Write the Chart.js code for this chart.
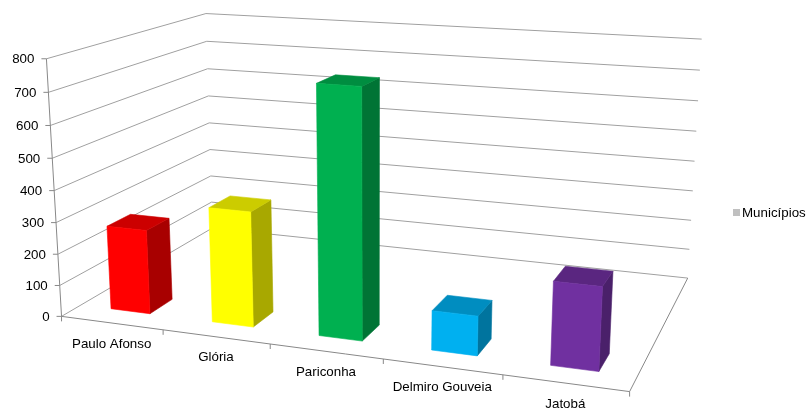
<!DOCTYPE html>
<html>
<head>
<meta charset="utf-8">
<script src="https://cdn.jsdelivr.net/npm/chart.js@4.4.1/dist/chart.umd.min.js"></script>
<style>
html,body{margin:0;padding:0;background:#ffffff;}
canvas{display:block;}
</style>
</head>
<body>
<canvas id="c" width="807" height="408"></canvas>
<script>
// ---- data ----
const categories = ['Paulo Afonso', 'Glória', 'Pariconha', 'Delmiro Gouveia', 'Jatobá'];
const seriesName = 'Municípios';
const values = [268, 360, 758, 120, 248];
const barColors = ['#FF0000', '#FFFF00', '#00B050', '#00B0F0', '#7030A0'];
const yMin = 0, yMax = 800, yStep = 100;

// ---- 3-D frame calibration (layout of the perspective box: [X, Y, Z, px, py]) ----
const FRAME_CAL = [];
(function () {
  const front = [[0, 62, 317], [0.2, 163, 330.5], [0.4, 271, 344.5], [0.6, 384, 359.5], [0.8, 502, 375], [1, 629, 392]];
  front.forEach(([X, x, y]) => FRAME_CAL.push([X, 0, 0, x, y]));
  const fl = [316.7, 285, 253.3, 221.7, 190, 158.3, 125, 92.3, 59];
  fl.forEach((y, k) => FRAME_CAL.push([0, k / 8, 0, 61 - 14 * (317 - y) / 258, y]));
  const blY = [228, 202, 176, 149, 123, 97, 69, 42, 13];
  const blX = [213, 212, 211, 210, 209, 208, 207, 206, 206];
  blY.forEach((y, k) => FRAME_CAL.push([0, k / 8, 1, blX[k], y]));
  const brY = [278, 248, 220, 191, 161, 132, 101, 70, 39];
  const brX = [687, 690, 691, 693, 695, 696, 698, 700, 702];
  brY.forEach((y, k) => FRAME_CAL.push([1, k / 8, 1, brX[k], y]));
})();

function fitProjection(pts) {
  const n = 11;
  const A = Array.from({length: n}, () => new Array(n).fill(0));
  const b = new Array(n).fill(0);
  const add = (r, v) => {
    for (let i = 0; i < n; i++) {
      b[i] += r[i] * v;
      for (let j = 0; j < n; j++) A[i][j] += r[i] * r[j];
    }
  };
  pts.forEach(([X, Y, Z, x, y]) => {
    add([X, Y, Z, 1, 0, 0, 0, 0, -x * X, -x * Y, -x * Z], x);
    add([0, 0, 0, 0, X, Y, Z, 1, -y * X, -y * Y, -y * Z], y);
  });
  for (let c = 0; c < n; c++) {
    let piv = c;
    for (let r = c + 1; r < n; r++) if (Math.abs(A[r][c]) > Math.abs(A[piv][c])) piv = r;
    [A[c], A[piv]] = [A[piv], A[c]]; [b[c], b[piv]] = [b[piv], b[c]];
    for (let r = c + 1; r < n; r++) {
      const f = A[r][c] / A[c][c];
      for (let k = c; k < n; k++) A[r][k] -= f * A[c][k];
      b[r] -= f * b[c];
    }
  }
  const p = new Array(n).fill(0);
  for (let r = n - 1; r >= 0; r--) {
    let s = b[r];
    for (let k = r + 1; k < n; k++) s -= A[r][k] * p[k];
    p[r] = s / A[r][r];
  }
  return p;
}
const PM = fitProjection(FRAME_CAL);
function proj(X, Y, Z) {
  const w = PM[8] * X + PM[9] * Y + PM[10] * Z + 1;
  return {
    x: (PM[0] * X + PM[1] * Y + PM[2] * Z + PM[3]) / w,
    y: (PM[4] * X + PM[5] * Y + PM[6] * Z + PM[7]) / w
  };
}

const BAR_Z0 = 0.11, BAR_Z1 = 0.25;
const GRID_COLOR = '#a0a0a0';
const AXIS_COLOR = '#888888';
const FONT = '13.33px "Liberation Sans", Arial, sans-serif';

function shade(hex, f) {
  const n = parseInt(hex.slice(1), 16);
  const r = Math.round(((n >> 16) & 255) * f), g = Math.round(((n >> 8) & 255) * f), bl = Math.round((n & 255) * f);
  return `rgb(${r},${g},${bl})`;
}

function poly(ctx, pts, fill) {
  ctx.beginPath();
  pts.forEach((p, i) => { const q = proj(p[0], p[1], p[2]); i ? ctx.lineTo(q.x, q.y) : ctx.moveTo(q.x, q.y); });
  ctx.closePath();
  ctx.fillStyle = fill; ctx.fill();
  ctx.strokeStyle = fill; ctx.lineWidth = 0.6; ctx.stroke();
}

const excel3d = {
  id: 'excel3d',
  beforeDatasetsDraw() { return false; },
  afterDraw(chart) {
    const ctx = chart.ctx;
    const xs = chart.scales.x, ys = chart.scales.y;
    ctx.save();
    ctx.lineWidth = 1;
    // walls gridlines
    ys.ticks.forEach(t => {
      const h = (t.value - yMin) / (yMax - yMin);
      const a = proj(0, h, 0), bk = proj(0, h, 1), c = proj(1, h, 1);
      ctx.beginPath(); ctx.moveTo(a.x, a.y); ctx.lineTo(bk.x, bk.y); ctx.lineTo(c.x, c.y);
      ctx.strokeStyle = GRID_COLOR; ctx.stroke();
    });
    // floor front and right edges, vertical axis
    {
      const a = proj(0, 0, 0), b2 = proj(1, 0, 0), c = proj(1, 0, 1);
      ctx.beginPath(); ctx.moveTo(a.x, a.y); ctx.lineTo(b2.x, b2.y); ctx.lineTo(c.x, c.y);
      ctx.strokeStyle = AXIS_COLOR; ctx.stroke();
      const top = proj(0, 1, 0);
      ctx.beginPath(); ctx.moveTo(a.x, a.y); ctx.lineTo(top.x, top.y); ctx.stroke();
    }
    // category ticks
    const n = categories.length;
    for (let k = 0; k <= n; k++) {
      const p = proj(k / n, 0, 0);
      ctx.beginPath(); ctx.moveTo(p.x, p.y); ctx.lineTo(p.x, p.y + 5); ctx.stroke();
    }
    // y ticks and labels
    ctx.font = FONT; ctx.fillStyle = '#000'; ctx.textAlign = 'right'; ctx.textBaseline = 'middle';
    ys.ticks.forEach(t => {
      const h = (t.value - yMin) / (yMax - yMin);
      const p = proj(0, h, 0);
      ctx.beginPath(); ctx.moveTo(p.x - 5, p.y); ctx.lineTo(p.x, p.y); ctx.strokeStyle = AXIS_COLOR; ctx.stroke();
      ctx.fillText(String(t.value), p.x - 12, p.y + 1);
    });
    // bars
    const meta = chart.getDatasetMeta(0);
    const span = ys.bottom - ys.top;
    meta.data.forEach((el, i) => {
      const pr = el.getProps(['x', 'y', 'base', 'width'], true);
      const u0 = (pr.x - pr.width / 2 - xs.left) / xs.width;
      const u1 = (pr.x + pr.width / 2 - xs.left) / xs.width;
      const h = (pr.base - pr.y) / span;
      const col = barColors[i];
      const z0 = BAR_Z0, z1 = BAR_Z1;
      poly(ctx, [[u1, 0, z0], [u1, 0, z1], [u1, h, z1], [u1, h, z0]], shade(col, 0.66));
      poly(ctx, [[u0, h, z0], [u1, h, z0], [u1, h, z1], [u0, h, z1]], shade(col, 0.8));
      poly(ctx, [[u0, 0, z0], [u1, 0, z0], [u1, h, z0], [u0, h, z0]], col);
    });
    // category labels
    ctx.font = FONT; ctx.fillStyle = '#000'; ctx.textAlign = 'center'; ctx.textBaseline = 'middle';
    categories.forEach((c, i) => {
      const u = (xs.getPixelForValue(i) - xs.left) / xs.width;
      const p = proj(u, 0, 0);
      ctx.fillText(c, p.x, p.y + 21);
    });
    // legend
    const lx = chart.width - 74, ly = chart.height / 2 + 9;
    ctx.fillStyle = '#c0c0c0';
    ctx.fillRect(lx, ly - 4, 7, 7);
    ctx.fillStyle = '#000'; ctx.textAlign = 'left';
    ctx.fillText(chart.data.datasets[0].label, lx + 9, ly);
    ctx.restore();
  }
};

new Chart(document.getElementById('c'), {
  type: 'bar',
  data: {
    labels: categories,
    datasets: [{ label: seriesName, data: values, backgroundColor: barColors, categoryPercentage: 1, barPercentage: 0.39 }]
  },
  options: {
    responsive: false,
    devicePixelRatio: 1,
    animation: false,
    layout: { padding: 0 },
    plugins: { legend: { display: false }, tooltip: { enabled: false } },
    scales: {
      x: { display: false, offset: true },
      y: { display: false, min: yMin, max: yMax, ticks: { stepSize: yStep } }
    }
  },
  plugins: [excel3d]
});
</script>
</body>
</html>
